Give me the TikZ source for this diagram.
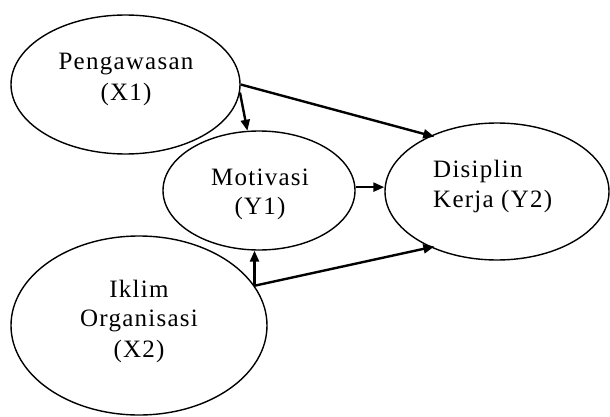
\documentclass[tikz,border=0pt]{standalone}
\usepackage{fontspec}
\setmainfont{Liberation Serif}[LetterSpace=5]
\usetikzlibrary{arrows.meta,shapes.geometric}
\begin{document}
\begin{tikzpicture}[x=1pt,y=1pt,
  var/.style={draw=black,line width=1.4pt,ellipse,inner sep=0pt},
  lbl/.style={font=\fontsize{25}{30}\selectfont,inner sep=0pt,anchor=base},
  lblw/.style={lbl,anchor=base west},
  link/.style={line width=2.4pt,-{Triangle[length=11pt,width=9pt]}}]
\useasboundingbox (0,0) rectangle (610,416);
\fill[white] (0,0) rectangle (610,416);
% ellipses
\node[var,minimum width=229pt,minimum height=139pt] (P) at (125.5,331.5) {};
\node[var,minimum width=192pt,minimum height=119pt] (M) at (259,225.5) {};
\node[var,minimum width=224pt,minimum height=137pt] (D) at (497,224.5) {};
\node[var,minimum width=256pt,minimum height=179pt] (I) at (139,90.5) {};
% labels
\node[lbl] (p1) at (126,346) {Pengawasan};
\node[lbl] (p2) at (126,316) {(X1)};
\node[lbl] (m1) at (260,231) {Motivasi};
\node[lbl] (m2) at (260,202) {(Y1)};
\node[lblw] (d1) at (433,239) {Disiplin};
\node[lblw] (d2) at (433,209) {Kerja (Y2)};
\node[lbl] (i1) at (139,119) {Iklim};
\node[lbl] (i2) at (139,90) {Organisasi};
\node[lbl] (i3) at (139,59) {(X2)};
% connectors
\coordinate (j) at (I.19);
\draw[link] (P.-4.3) -- (M.101.4);
\draw[link,shorten >=-4pt] (P.0) -- (D.140);
\draw[link] (M.2) -- (M.2 -| D.west);
\draw[link] (j) -- (j |- M.south);
\draw[link,shorten >=-4pt] (j) -- (D.220);
\end{tikzpicture}
\end{document}
